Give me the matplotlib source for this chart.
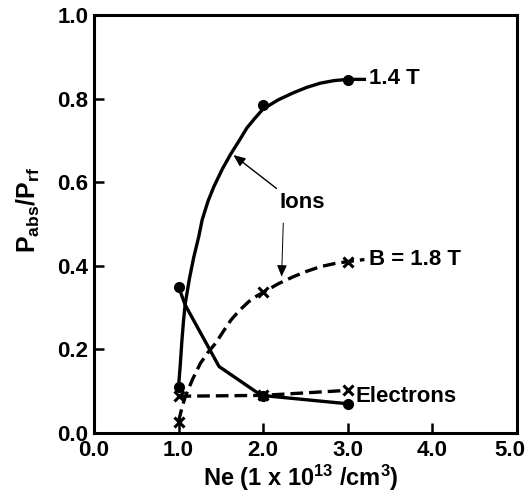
import matplotlib
matplotlib.use("Agg")
import matplotlib.pyplot as plt
from matplotlib.transforms import ScaledTranslation

plt.rcParams['font.family'] = ['Liberation Sans', 'DejaVu Sans']
plt.rcParams['font.weight'] = 'bold'
plt.rcParams['mathtext.default'] = 'regular'

# Measured data points (density in 1e13 /cm^3, absorbed power fraction)
ne = [1.0, 2.0, 3.0]
ions_14 = [0.11, 0.785, 0.845]
ions_18 = [0.027, 0.338, 0.41]
elec_14 = [0.35, 0.088, 0.07]
elec_18 = [0.088, 0.09, 0.102]

# Hand-drawn guide curves
ions_14_cx = [1.0, 1.02, 1.04, 1.06, 1.08, 1.13, 1.18, 1.24, 1.28, 1.35, 1.42, 1.52,
              1.62, 1.72, 1.81, 1.9, 2.0, 2.18, 2.36, 2.52, 2.68, 2.84, 3.0, 3.2]
ions_14_cy = [0.11, 0.16, 0.22, 0.27, 0.31, 0.37, 0.42, 0.47, 0.51, 0.555, 0.59, 0.632,
              0.668, 0.70, 0.73, 0.752, 0.775, 0.797, 0.814, 0.827, 0.837, 0.843, 0.846, 0.846]
ions_18_cx = [1.0, 1.04, 1.08, 1.17, 1.26, 1.35, 1.44, 1.53, 1.62, 1.72, 1.83, 1.92,
              2.0, 2.18, 2.36, 2.52, 2.68, 2.84, 3.0, 3.2]
ions_18_cy = [0.027, 0.06, 0.087, 0.13, 0.167, 0.193, 0.215, 0.243, 0.27, 0.293, 0.314, 0.327,
              0.336, 0.357, 0.374, 0.387, 0.398, 0.405, 0.41, 0.415]
elec_14_cx = [1.0, 1.08, 1.48, 1.98, 3.0]
elec_14_cy = [0.35, 0.306, 0.159, 0.09, 0.07]
elec_18_cx = [1.0, 2.0, 3.0]
elec_18_cy = [0.088, 0.09, 0.102]

xticks = [0.0, 1.0, 2.0, 3.0, 4.0, 5.0]
yticks = [0.0, 0.2, 0.4, 0.6, 0.8, 1.0]

fig = plt.figure(figsize=(5.29, 4.99), dpi=100)
ax = fig.add_axes([94 / 529, 66 / 499, 422.5 / 529, 418 / 499])

lw = 2.4
dash = (0, (3.8, 1.8))
ax.plot(ions_14_cx, ions_14_cy, color='black', lw=lw)
ax.plot(ne, ions_14, 'o', color='black', ms=7)
ax.plot(ions_18_cx, ions_18_cy, color='black', lw=lw, ls=dash)
ax.plot(ne, ions_18, 'x', color='black', ms=7, mew=2.2)
ax.plot(elec_14_cx, elec_14_cy, color='black', lw=lw)
ax.plot(ne, elec_14, 'o', color='black', ms=7)
ax.plot(elec_18_cx, elec_18_cy, color='black', lw=lw, ls=dash)
ax.plot(ne, elec_18, 'x', color='black', ms=7, mew=2.2)

fs = 16
ax.text(3.26, 0.849, '1.4 T', fontsize=fs, fontweight='bold', va='center', ha='left')
ax.text(3.26, 0.414, 'B = 1.8 T', fontsize=fs, fontweight='bold', va='center', ha='left')
ax.text(3.09, 0.087, 'Electrons', fontsize=fs, fontweight='bold', va='center', ha='left')
ax.text(2.47, 0.552, 'Ions', fontsize=fs, fontweight='bold', va='center', ha='center')
ax.annotate('', xy=(1.65, 0.665), xytext=(2.16, 0.585),
            arrowprops=dict(arrowstyle='-|>,head_length=0.7,head_width=0.3',
                            color='black', lw=1.0, shrinkA=0, shrinkB=0))
ax.annotate('', xy=(2.22, 0.374), xytext=(2.24, 0.502),
            arrowprops=dict(arrowstyle='-|>,head_length=0.7,head_width=0.3',
                            color='black', lw=0.7, shrinkA=0, shrinkB=0))

ax.set_xlim(0, 5)
ax.set_ylim(0, 1)
ax.set_xticks(xticks)
ax.set_yticks(yticks)
ax.set_xticklabels([f'{t:.1f}' for t in xticks], fontsize=fs, fontweight='bold')
ax.set_yticklabels([f'{t:.1f}' for t in yticks], fontsize=fs, fontweight='bold')
ax.tick_params(direction='in', length=7, width=1.8)
ax.tick_params(axis='x', pad=5)
ax.tick_params(axis='y', pad=4)
for s in ax.spines.values():
    s.set_linewidth(2.2)

# the last x label sits slightly left of the frame edge, as in the original
last = ax.get_xticklabels()[-1]
last.set_transform(last.get_transform() + ScaledTranslation(-0.07, 0, fig.dpi_scale_trans))

ax.set_xlabel('Ne (1 x 10$^{13}$ /cm$^3$)', fontsize=17, fontweight='bold')
ax.xaxis.label.set_va('center')
ax.xaxis.set_label_coords(0.49, -0.108)
ax.set_ylabel('P$_{abs}$/P$_{rf}$', fontsize=18, fontweight='bold')
ax.yaxis.label.set_va('center')
ax.yaxis.set_label_coords(-0.156, 0.533)

fig.savefig('out.png', dpi=100)
